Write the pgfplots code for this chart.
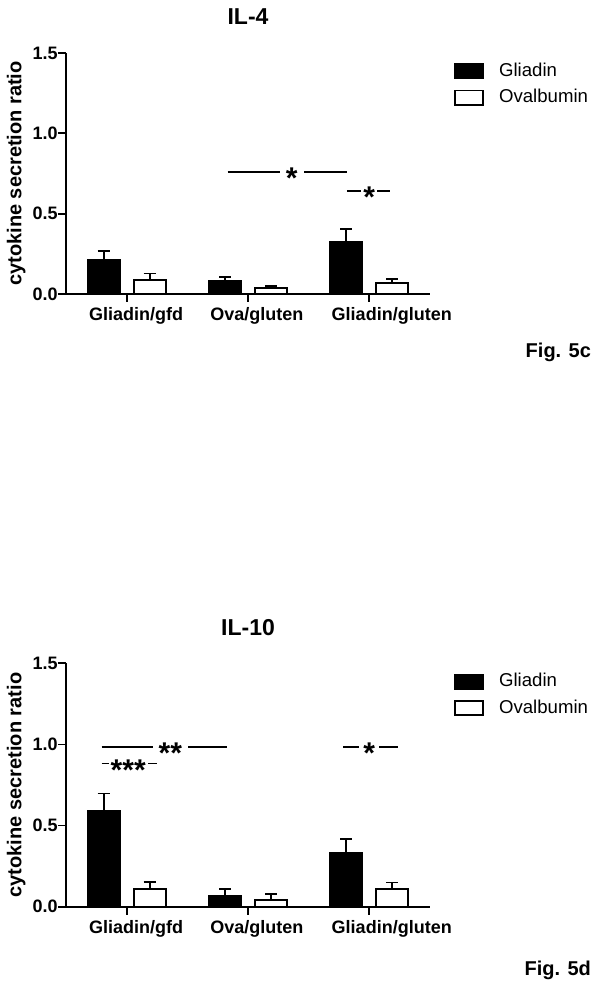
\documentclass[border=0pt]{standalone}
\usepackage{fontspec}
\setmainfont{Liberation Sans}
\usepackage{pgfplots}
\pgfplotsset{compat=1.18}

\pgfplotsset{
  cyto/.style={
    scale only axis,
    width=182pt,
    xmin=-0.5, xmax=2.5,
    ymin=0, ymax=1.5,
    clip=false,
    axis x line*=bottom,
    axis y line*=left,
    axis line style={line width=0.85pt, black},
    ybar, bar width=16pt,
    xtick={0,1,2},
    xticklabels={Gliadin/gfd, Ova/gluten, Gliadin/gluten},
    ytick={0,0.5,1,1.5},
    tick align=outside,
    major tick length=4pt,
    tick style={line width=0.85pt, black},
    ticklabel style={font=\fontsize{9}{11}\selectfont\bfseries},
    yticklabel style={anchor=east, inner sep=0pt,
      /pgf/number format/fixed, /pgf/number format/fixed zerofill,
      /pgf/number format/precision=1, /pgf/number format/assume math mode=true},
    xticklabel style={anchor=north west, inner sep=0pt, xshift=-19pt, yshift=-2.5pt},
    ylabel={cytokine secretion ratio},
    ylabel style={at={(axis description cs:-0.137,0.5)}, anchor=center,
      font=\fontsize{10}{12}\selectfont\bfseries},
    title style={at={(axis description cs:0.5,1)}, anchor=base, yshift=8pt,
      font=\fontsize{11.5}{13}\selectfont\bfseries},
    legend style={at={(axis description cs:1.066,0.96)}, anchor=north west,
      draw=none, fill=none, inner sep=0pt, row sep=5pt, column sep=7.5pt,
      font=\fontsize{9.3}{11}\selectfont, nodes={inner sep=0pt}},
    legend cell align=left,
  },
  legbox/.style={legend image code/.code={
    \draw[##1, line width=0.85pt] (0pt,-3.6pt) rectangle (14pt,3.6pt);}},
  errs/.style={error bars/.cd, y dir=plus, y explicit,
    error bar style={line width=0.85pt, black},
    error mark options={line width=0.85pt, black, mark size=3pt, rotate=90}},
}
\tikzset{sigstar/.style={fill=white, inner ysep=0pt, anchor=base, yshift=-8.3pt,
    font=\fontsize{15}{15}\selectfont\bfseries}}

\begin{document}
\begin{tikzpicture}
\useasboundingbox (0,0) rectangle (300.5pt,491.5pt);

% IL-4
\begin{axis}[cyto, height=120.5pt, at={(33pt,344.5pt)}, anchor=south west, title={IL-4}]
\addplot[fill=black, draw=black, line width=0.85pt, bar shift=-11.5pt, legbox, errs]
  coordinates {(0,0.214) +- (0,0.052) (1,0.083) +- (0,0.021) (2,0.324) +- (0,0.081)};
\addplot[fill=white, draw=black, line width=0.85pt, bar shift=11.5pt, legbox, errs]
  coordinates {(0,0.089) +- (0,0.038) (1,0.039) +- (0,0.009) (2,0.068) +- (0,0.025)};
\legend{Gliadin, Ovalbumin}
\draw[line width=0.85pt] (axis cs:0.833,0.759) -- (axis cs:1.814,0.759);
\node[sigstar, inner xsep=3pt] at (axis cs:1.36,0.759) {*};
\draw[line width=0.85pt] (axis cs:1.814,0.639) -- (axis cs:2.17,0.639);
\node[sigstar, inner xsep=1pt] at (axis cs:2.0,0.639) {*};
\end{axis}

% IL-10
\begin{axis}[cyto, height=121.7pt, at={(33pt,38.15pt)}, anchor=south west, title={IL-10}]
\addplot[fill=black, draw=black, line width=0.85pt, bar shift=-11.5pt, legbox, errs]
  coordinates {(0,0.590) +- (0,0.107) (1,0.066) +- (0,0.045) (2,0.331) +- (0,0.086)};
\addplot[fill=white, draw=black, line width=0.85pt, bar shift=11.5pt, legbox, errs]
  coordinates {(0,0.111) +- (0,0.043) (1,0.041) +- (0,0.037) (2,0.109) +- (0,0.041)};
\legend{Gliadin, Ovalbumin}
\draw[line width=0.85pt] (axis cs:-0.206,0.984) -- (axis cs:0.824,0.984);
\node[sigstar, inner xsep=3pt] at (axis cs:0.36,0.984) {**};
\draw[line width=0.85pt] (axis cs:-0.206,0.883) -- (axis cs:0.247,0.883);
\node[sigstar, inner xsep=1pt] at (axis cs:0.013,0.883) {***};
\draw[line width=0.85pt] (axis cs:1.786,0.984) -- (axis cs:2.234,0.984);
\node[sigstar, inner xsep=2pt] at (axis cs:2.0,0.984) {*};
\end{axis}

\node[anchor=base east, font=\fontsize{10}{12}\selectfont\bfseries] at (299pt,312.5pt) {Fig. 5c};
\node[anchor=base east, font=\fontsize{10}{12}\selectfont\bfseries] at (299pt,4pt) {Fig. 5d};
\end{tikzpicture}
\end{document}
